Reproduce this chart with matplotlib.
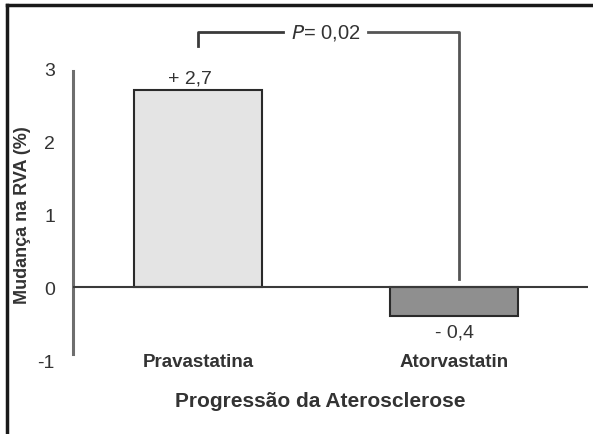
import matplotlib
matplotlib.use('Agg')
import matplotlib.pyplot as plt

plt.rcParams['font.family'] = ['Liberation Sans', 'DejaVu Sans']

categories = ['Pravastatina', 'Atorvastatin']
values     = [2.7, -0.4]
val_labels = ['+ 2,7', '- 0,4']
bar_colors = ['#e4e4e4', '#8f8f8f']
yticks     = [-1, 0, 1, 2, 3]
p_text     = r'$\it{P}$= 0,02'

txt = '#333333'

fig = plt.figure(figsize=(5.93, 4.35), dpi=100)
fig.patch.set_facecolor('white')

# frame around the figure (only left and top edges visible)
fig.add_artist(plt.Line2D([0.011, 0.011], [0, 0.987], transform=fig.transFigure,
                          color='#1a1a1a', lw=2.5))
fig.add_artist(plt.Line2D([0.011, 1.0], [0.987, 0.987], transform=fig.transFigure,
                          color='#1a1a1a', lw=2.5))

ax = fig.add_axes([0.123, 0.170, 0.869, 0.671])
x = [0, 1]
ax.bar(x, values, width=0.5, color=bar_colors, edgecolor='#2a2a2a', linewidth=1.5, zorder=3)
ax.set_xlim(-0.488, 1.523)
ax.set_ylim(-1, 3)

for s in ['top', 'right', 'bottom']:
    ax.spines[s].set_visible(False)
ax.spines['left'].set_color('#6e6e6e')
ax.spines['left'].set_linewidth(2.2)
ax.spines['left'].set_bounds(-0.92, 2.96)
ax.axhline(0, color='#3a3a3a', lw=1.5, zorder=4)

ax.set_yticks(yticks)
ax.set_yticklabels([str(t) for t in yticks], fontsize=14, color=txt)
ax.tick_params(axis='y', length=0, pad=13)
ax.set_xticks([])

fig.text(0.038, 0.505, 'Mudança na RVA (%)', fontsize=13, fontweight='bold', color=txt,
         rotation=90, ha='center', va='center')
fig.text(0.54, 0.078, 'Progressão da Aterosclerose', fontsize=15, fontweight='bold',
         color=txt, ha='center', va='center')

# category labels
for xi, cat in zip(x, categories):
    ax.text(xi, -1.02, cat, ha='center', va='center', fontsize=13.5, fontweight='bold', color=txt)

# value labels
ax.text(x[0] - 0.03, values[0] + 0.17, val_labels[0], ha='center', va='center', fontsize=14, color=txt)
ax.text(x[1], values[1] - 0.22, val_labels[1], ha='center', va='center', fontsize=14, color=txt)

# significance bracket
by = 3.49
ax.plot([0, 0, 0.33], [3.30, by, by], color='#3a3a3a', lw=2, clip_on=False)
ax.plot([0.665, 1.02, 1.02], [by, by, 0.11], color='#555555', lw=2, clip_on=False)
ax.text(0.50, by, p_text, ha='center', va='center', fontsize=14.5, color=txt)

plt.savefig('out.png', dpi=100)
